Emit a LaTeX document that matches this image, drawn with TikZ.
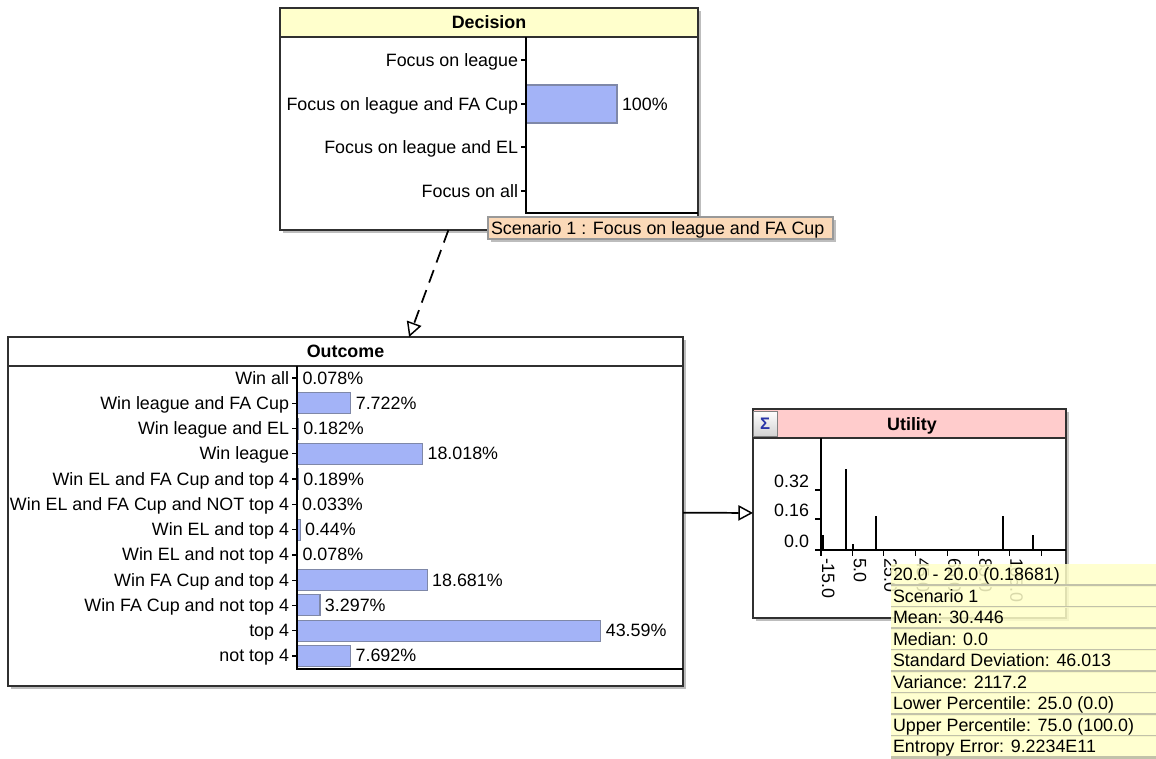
\documentclass[tikz,border=0pt]{standalone}
\usepackage{fontspec}
\setmainfont{Liberation Sans}
\usetikzlibrary{arrows.meta,calc}
\definecolor{hdrY}{HTML}{FFFFCC}
\definecolor{hdrP}{HTML}{FFCCCC}
\definecolor{barC}{HTML}{A3B3F7}
\definecolor{barB}{HTML}{7F88A8}
\definecolor{peach}{HTML}{FBD9B8}
\definecolor{tipY}{HTML}{FFFFC8}
\definecolor{sepG}{HTML}{C2C2AA}
\definecolor{boxB}{HTML}{303030}
\definecolor{shad}{HTML}{BDBDBD}
\definecolor{sigB}{HTML}{2A35A8}
\begin{document}
\begin{tikzpicture}[x=0.75pt,y=-0.75pt,
  every node/.style={inner sep=0pt, outer sep=0pt, font=\fontsize{13.4}{16}\selectfont},
  nodebox/.style 2 args={draw=boxB, line width=1.3pt, fill=white, rectangle, anchor=north west,
     minimum width={#1*0.75pt}, minimum height={#2*0.75pt}},
  hdr/.style={draw=boxB, line width=1.3pt},
  ttl/.style={font=\fontsize{13.4}{16}\selectfont\bfseries, anchor=base},
  rowlab/.style={anchor=base east},
  val/.style={anchor=base west},
  barbox/.style={fill=barC, draw=barB, line width=0.8pt},
  axisline/.style={draw=black, line width=0.9pt},
  spike/.style={draw=black, line width=1.2pt},
  link/.style={draw=black, line width=1.3pt, -{Triangle[open, length=11pt, width=11.5pt, line width=1.1pt]}},
  dashlink/.style={link, dash pattern=on 10pt off 6pt},
]
\useasboundingbox (0,0) rectangle (1156,758);

% ---------------- Decision ----------------
\fill[shad] (283,11) rectangle (701,233);
\node[nodebox={418}{222}] (dec) at (280,8) {};
\filldraw[fill=hdrY, hdr] (280,8) rectangle (698,37);
\node[ttl] (dect) at (489,28) {Decision};
\filldraw[barbox] (526,85) rectangle (617,123);
\node[val] (decp) at (622,110) {100\%};
\foreach \t/\y [count=\i] in {Focus on league/60, Focus on league and FA Cup/104,
    Focus on league and EL/147, Focus on all/191}{
  \node[rowlab] (dl\i) at (518,\y+6) {\t};
  \draw[axisline] (521,\y) -- (526,\y);
}
\draw[axisline] (526,37) -- (526,213) -- (698,213);

% ---------------- Outcome ----------------
\fill[shad] (11,340) rectangle (686,689);
\node[nodebox={675}{349}] (out) at (8,337) {};
\draw[hdr] (8,366) -- (683,366);
\node[ttl] (outt) at (345.5,357) {Outcome};
\foreach \t/\p [count=\i] in {Win all/0.078, Win league and FA Cup/7.722, Win league and EL/0.182,
    Win league/18.018, Win EL and FA Cup and top 4/0.189, Win EL and FA Cup and NOT top 4/0.033,
    Win EL and top 4/0.44, Win EL and not top 4/0.078, Win FA Cup and top 4/18.681,
    Win FA Cup and not top 4/3.297, top 4/43.59, not top 4/7.692}{
  \pgfmathsetmacro\yy{378+25.27*(\i-1)}
  \pgfmathsetmacro\w{\p*6.97}
  \filldraw[barbox] (297,\yy-10.5) rectangle (297+\w,\yy+10.5);
  \node[val] (ov\i) at (302+\w,\yy+6) {\p\%};
  \node[rowlab] (ol\i) at (289,\yy+6) {\t};
  \draw[axisline] (292,\yy) -- (297,\yy);
}
\draw[axisline] (297,366) -- (297,669) -- (683,669);

% ---------------- Utility ----------------
\fill[shad] (756,412) rectangle (1069,621);
\node[nodebox={313}{209}] (ut) at (753,409) {};
\filldraw[fill=hdrP, hdr] (753,409) rectangle (1066,438);
\node[draw=gray, line width=0.6pt, top color=white, bottom color=gray!35, anchor=north west,
  minimum width={24*0.75pt}, minimum height={25*0.75pt},
  font=\fontsize{12.5}{13}\selectfont\bfseries, text=sigB] (sig) at (753,411) {Σ};
\node[ttl] (utt) at (912,430) {Utility};
\draw[axisline] (821,438) -- (821,556);
\draw[axisline] (821,550) -- (1066,550);
\foreach \y/\t [count=\i] in {490/0.32, 519/0.16, 550/0.0}{
  \draw[axisline] (815,\y) -- (821,\y);
  \node[rowlab] (yl\i) at (809,\y-3) {\t};
}
\foreach \x/\t [count=\i] in {821/-15.0, 852.7/5.0, 883.3/25.0, 915.7/45.0, 947.3/65.0,
    978.3/85.0, 1009.3/105.0}{
  \draw[axisline] (\x,550) -- (\x,556);
  \node[rotate=-90, anchor=south west] (xl\i) at (\x+1,558) {\t};
}
\draw[axisline] (1041.7,550) -- (1041.7,556);
\draw[black, line width=2pt] (822.5,535) -- (822.5,550);
\draw[spike] (846,469) -- (846,550);
\draw[spike] (853,544) -- (853,550);
\draw[spike] (876,516) -- (876,550);
\draw[spike] (1003,516) -- (1003,550);
\draw[spike] (1033,535) -- (1033,550);

% ---------------- connectors ----------------
\draw[dashlink] (dec) -- (out);
\draw[link] (out) -- (ut);

% ---------------- tooltips ----------------
\fill[shad] (491,220) rectangle (836,242);
\node[draw=gray!80, line width=0.8pt, fill=peach, anchor=north west,
  minimum width={345*0.75pt}, minimum height={22*0.75pt}] (scn) at (488,217) {};
\node[val] (scnt) at (491,234) {Scenario 1 : Focus on league and FA Cup};

\foreach \t [count=\i] in {20.0 - 20.0 (0.18681), Scenario 1, Mean: 30.446, Median: 0.0,
    Standard Deviation: 46.013, Variance: 2117.2, Lower Percentile: 25.0 (0.0),
    Upper Percentile: 75.0 (100.0), Entropy Error: 9.2234E11}{
  \pgfmathsetmacro\yt{564+21.5*(\i-1)}
  \fill[tipY, fill opacity=0.85] (891,\yt) rectangle (1156,\yt+21.5);
  \draw[sepG, line width=1.6pt] (891,\yt+21.5) -- (1156,\yt+21.5);
  \node[val] (tt\i) at (893,\yt+16.5) {\t};
}
\end{tikzpicture}
\end{document}
